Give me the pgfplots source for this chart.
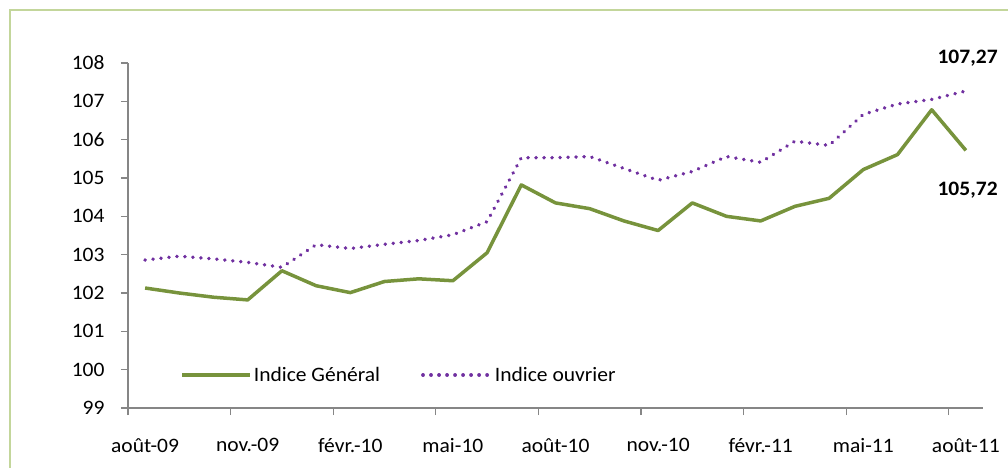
\documentclass[border=0pt]{standalone}
\usepackage{fontspec}
\setmainfont{Carlito}[FakeStretch=1.05]
\usepackage{pgfplots}
\pgfplotsset{compat=1.18}
\definecolor{vert}{HTML}{77933C}
\definecolor{violet}{HTML}{7030A0}
\definecolor{axisgray}{HTML}{868686}
\definecolor{framecol}{HTML}{C3D69B}
\begin{document}
\begin{tikzpicture}[font=\fontsize{20.5bp}{24bp}\selectfont]
\useasboundingbox (0,0) rectangle (1008bp,468bp);
\draw[framecol, line width=1.5bp] (10bp,-20bp) rectangle (1030bp,458bp);
\begin{axis}[
  at={(128bp,60bp)}, anchor=south west,
  scale only axis, width=855bp, height=345bp,
  xmin=-0.5, xmax=24.5, ymin=99, ymax=108,
  axis lines*=left,
  axis line style={axisgray, line width=1.3bp},
  clip=false,
  /pgf/number format/assume math mode=true,
  xtick={0,3,...,24},
  xticklabels={août-09, nov.-09, févr.-10, mai-10, août-10, nov.-10, févr.-11, mai-11, août-11},
  minor xtick={-0.5,2.5,...,23.5},
  ytick={99,100,...,108},
  tick align=outside,
  tick style={axisgray, line width=1.3bp},
  major tick length=7bp, minor tick length=7bp,
  major x tick style={draw=none},
  xticklabel style={yshift=-20bp},
  yticklabel style={xshift=-13bp},
  legend style={draw=none, fill=none, at={(0.061,0.0957)}, anchor=west,
    inner xsep=0pt, legend columns=2,
    /tikz/every even column/.append style={column sep=39bp}},
  legend image code/.code={\draw[#1] (0bp,0bp) -- (68bp,0bp);},
]
\addplot[vert, line width=3.5bp, line join=round] coordinates {
(0,102.13) (1,102.00) (2,101.89) (3,101.82) (4,102.58) (5,102.19) (6,102.01)
(7,102.30) (8,102.37) (9,102.32) (10,103.05) (11,104.82) (12,104.35) (13,104.20)
(14,103.88) (15,103.63) (16,104.35) (17,104.00) (18,103.88) (19,104.26) (20,104.47)
(21,105.22) (22,105.61) (23,106.78) (24,105.72)};
\addlegendentry{Indice Général}
\addplot[violet, line width=3.8bp, line cap=round, dash pattern=on 0.01bp off 8bp] coordinates {
(0,102.86) (1,102.96) (2,102.89) (3,102.80) (4,102.67) (5,103.26) (6,103.16)
(7,103.27) (8,103.37) (9,103.52) (10,103.86) (11,105.53) (12,105.53) (13,105.56)
(14,105.25) (15,104.94) (16,105.17) (17,105.56) (18,105.41) (19,105.96) (20,105.85)
(21,106.66) (22,106.93) (23,107.05) (24,107.27)};
\addlegendentry{Indice ouvrier}
\node[font=\fontsize{20.5bp}{24bp}\selectfont\bfseries] at (axis cs:24.05,108.12) {107,27};
\node[font=\fontsize{20.5bp}{24bp}\selectfont\bfseries] at (axis cs:24.05,104.67) {105,72};
\end{axis}
\end{tikzpicture}
\end{document}
